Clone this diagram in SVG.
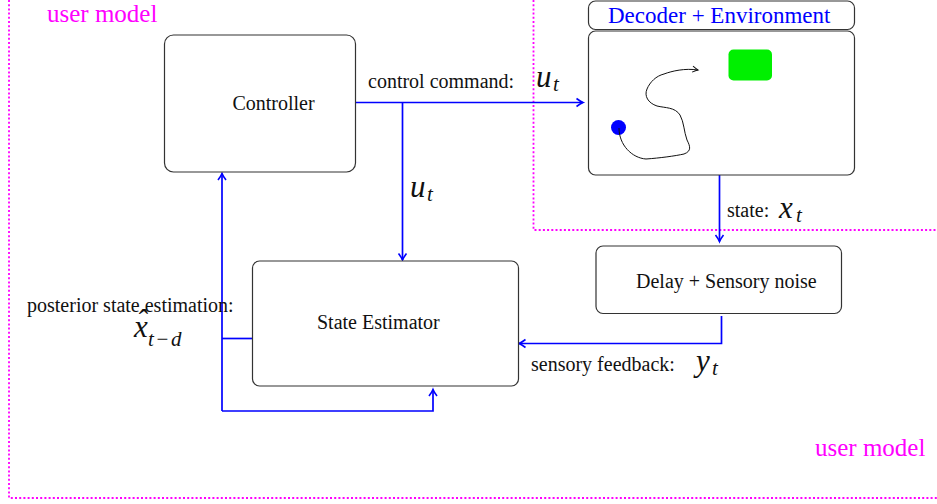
<svg xmlns="http://www.w3.org/2000/svg" width="937" height="504" viewBox="0 0 937 504">
<defs>
<style>
.box{fill:#fff;stroke:#333;stroke-width:1.2}
.lbl{font-family:"Liberation Serif","Times New Roman",serif;font-size:20px;fill:#111}
.um{font-family:"Liberation Serif","Times New Roman",serif;font-size:25px;fill:#ff00ff}
.m{font-family:"Liberation Serif",serif;font-style:italic;font-size:31px;fill:#111}
.s{font-family:"Liberation Serif",serif;font-style:italic;font-size:21px;fill:#111}
.wire{fill:none;stroke:#0000ff;stroke-width:1.7}
.dot{fill:none;stroke:#ff00ff;stroke-width:1.8;stroke-dasharray:2 2.2}
</style>
<marker id="arr" markerUnits="userSpaceOnUse" markerWidth="12" markerHeight="12" viewBox="-8 -6 10 12" refX="0" refY="0" orient="auto">
<path d="M-6.5,-4 Q-2.5,-1 0,0 Q-2.5,1 -6.5,4" fill="none" stroke="#0000ff" stroke-width="1.6"/>
</marker>
<marker id="arrk" markerUnits="userSpaceOnUse" markerWidth="12" markerHeight="12" viewBox="-8 -6 10 12" refX="0" refY="0" orient="auto">
<path d="M-5.5,-3 Q-2,-0.8 0,0 Q-2,0.8 -5.5,3" fill="none" stroke="#111" stroke-width="1"/>
</marker>
</defs>
<rect width="937" height="504" fill="#fff"/>

<g id="boundaries">
<path class="dot" d="M9,0 V498 H937"/>
<path class="dot" d="M533.5,0 V230 H937"/>
<text class="um" x="47" y="22">user model</text>
<text class="um" x="815" y="456">user model</text>
</g>

<g id="connectors">
<path class="wire" d="M355,102.5 H583" marker-end="url(#arr)"/>
<path class="wire" d="M402.5,102.5 V260" marker-end="url(#arr)"/>
<path class="wire" d="M719.5,175 V241.5" marker-end="url(#arr)"/>
<path class="wire" d="M721.5,316 V343.5 H519" marker-end="url(#arr)"/>
<path class="wire" d="M252,338.5 H222"/>
<path class="wire" d="M222,411 V173.5" marker-end="url(#arr)"/>
<path class="wire" d="M222,411 H433 V389.5" marker-end="url(#arr)"/>
</g>

<g id="controller">
<rect class="box" x="164.5" y="35" width="191" height="137" rx="9"/>
<text class="lbl" x="273.5" y="110" text-anchor="middle">Controller</text>
</g>

<g id="decoder-environment">
<rect class="box" x="588.5" y="1" width="266" height="28.5" rx="7"/>
<text x="608" y="23" font-family="Liberation Serif,Times New Roman,serif" font-size="23" fill="#0000ff">Decoder + Environment</text>
<rect class="box" x="588.5" y="31" width="266" height="144" rx="7"/>
<rect x="728.5" y="49.5" width="43.5" height="31" rx="5" fill="#00f000"/>
<circle cx="618.5" cy="127.5" r="7.5" fill="#0000ff"/>
<path d="M619,128 C619,145 632,158 646,159 C660,158 675,156 684,154 C692,151 690,146 687,140 C684,132 684,122 680,115 C675,107 665,108 657,106 C648,103 644,96 647,89 C650,82 656,76 664,74 C672,71 685,68 698,70" fill="none" stroke="#111" stroke-width="1" marker-end="url(#arrk)"/>
</g>

<g id="delay-sensory-noise">
<rect class="box" x="596" y="246" width="245.5" height="67.5" rx="7"/>
<text class="lbl" x="636" y="288">Delay + Sensory noise</text>
</g>

<g id="state-estimator">
<rect class="box" x="252.5" y="261" width="266" height="125" rx="7"/>
<text class="lbl" x="317" y="329">State Estimator</text>
</g>

<g id="labels">
<text class="lbl" x="368" y="88">control command:</text>
<text class="m" x="536" y="87">u</text><text class="s" x="553" y="91">t</text>
<text class="m" x="410" y="197">u</text><text class="s" x="427" y="201">t</text>
<text class="lbl" x="727" y="217" font-size="19">state:</text>
<text class="m" x="779" y="218">x</text><text class="s" x="796" y="222">t</text>
<text class="lbl" x="531" y="371">sensory feedback:</text>
<text class="m" x="696" y="371">y</text><text class="s" x="712" y="375">t</text>
<text class="lbl" x="27" y="312">posterior state estimation:</text>
<text class="m" x="134" y="337">x</text>
<text class="m" x="141.5" y="330.5" font-style="normal" text-anchor="middle">ˆ</text>
<text class="s" x="148" y="346" font-size="22" letter-spacing="1.5">t−d</text>
</g>
</svg>
